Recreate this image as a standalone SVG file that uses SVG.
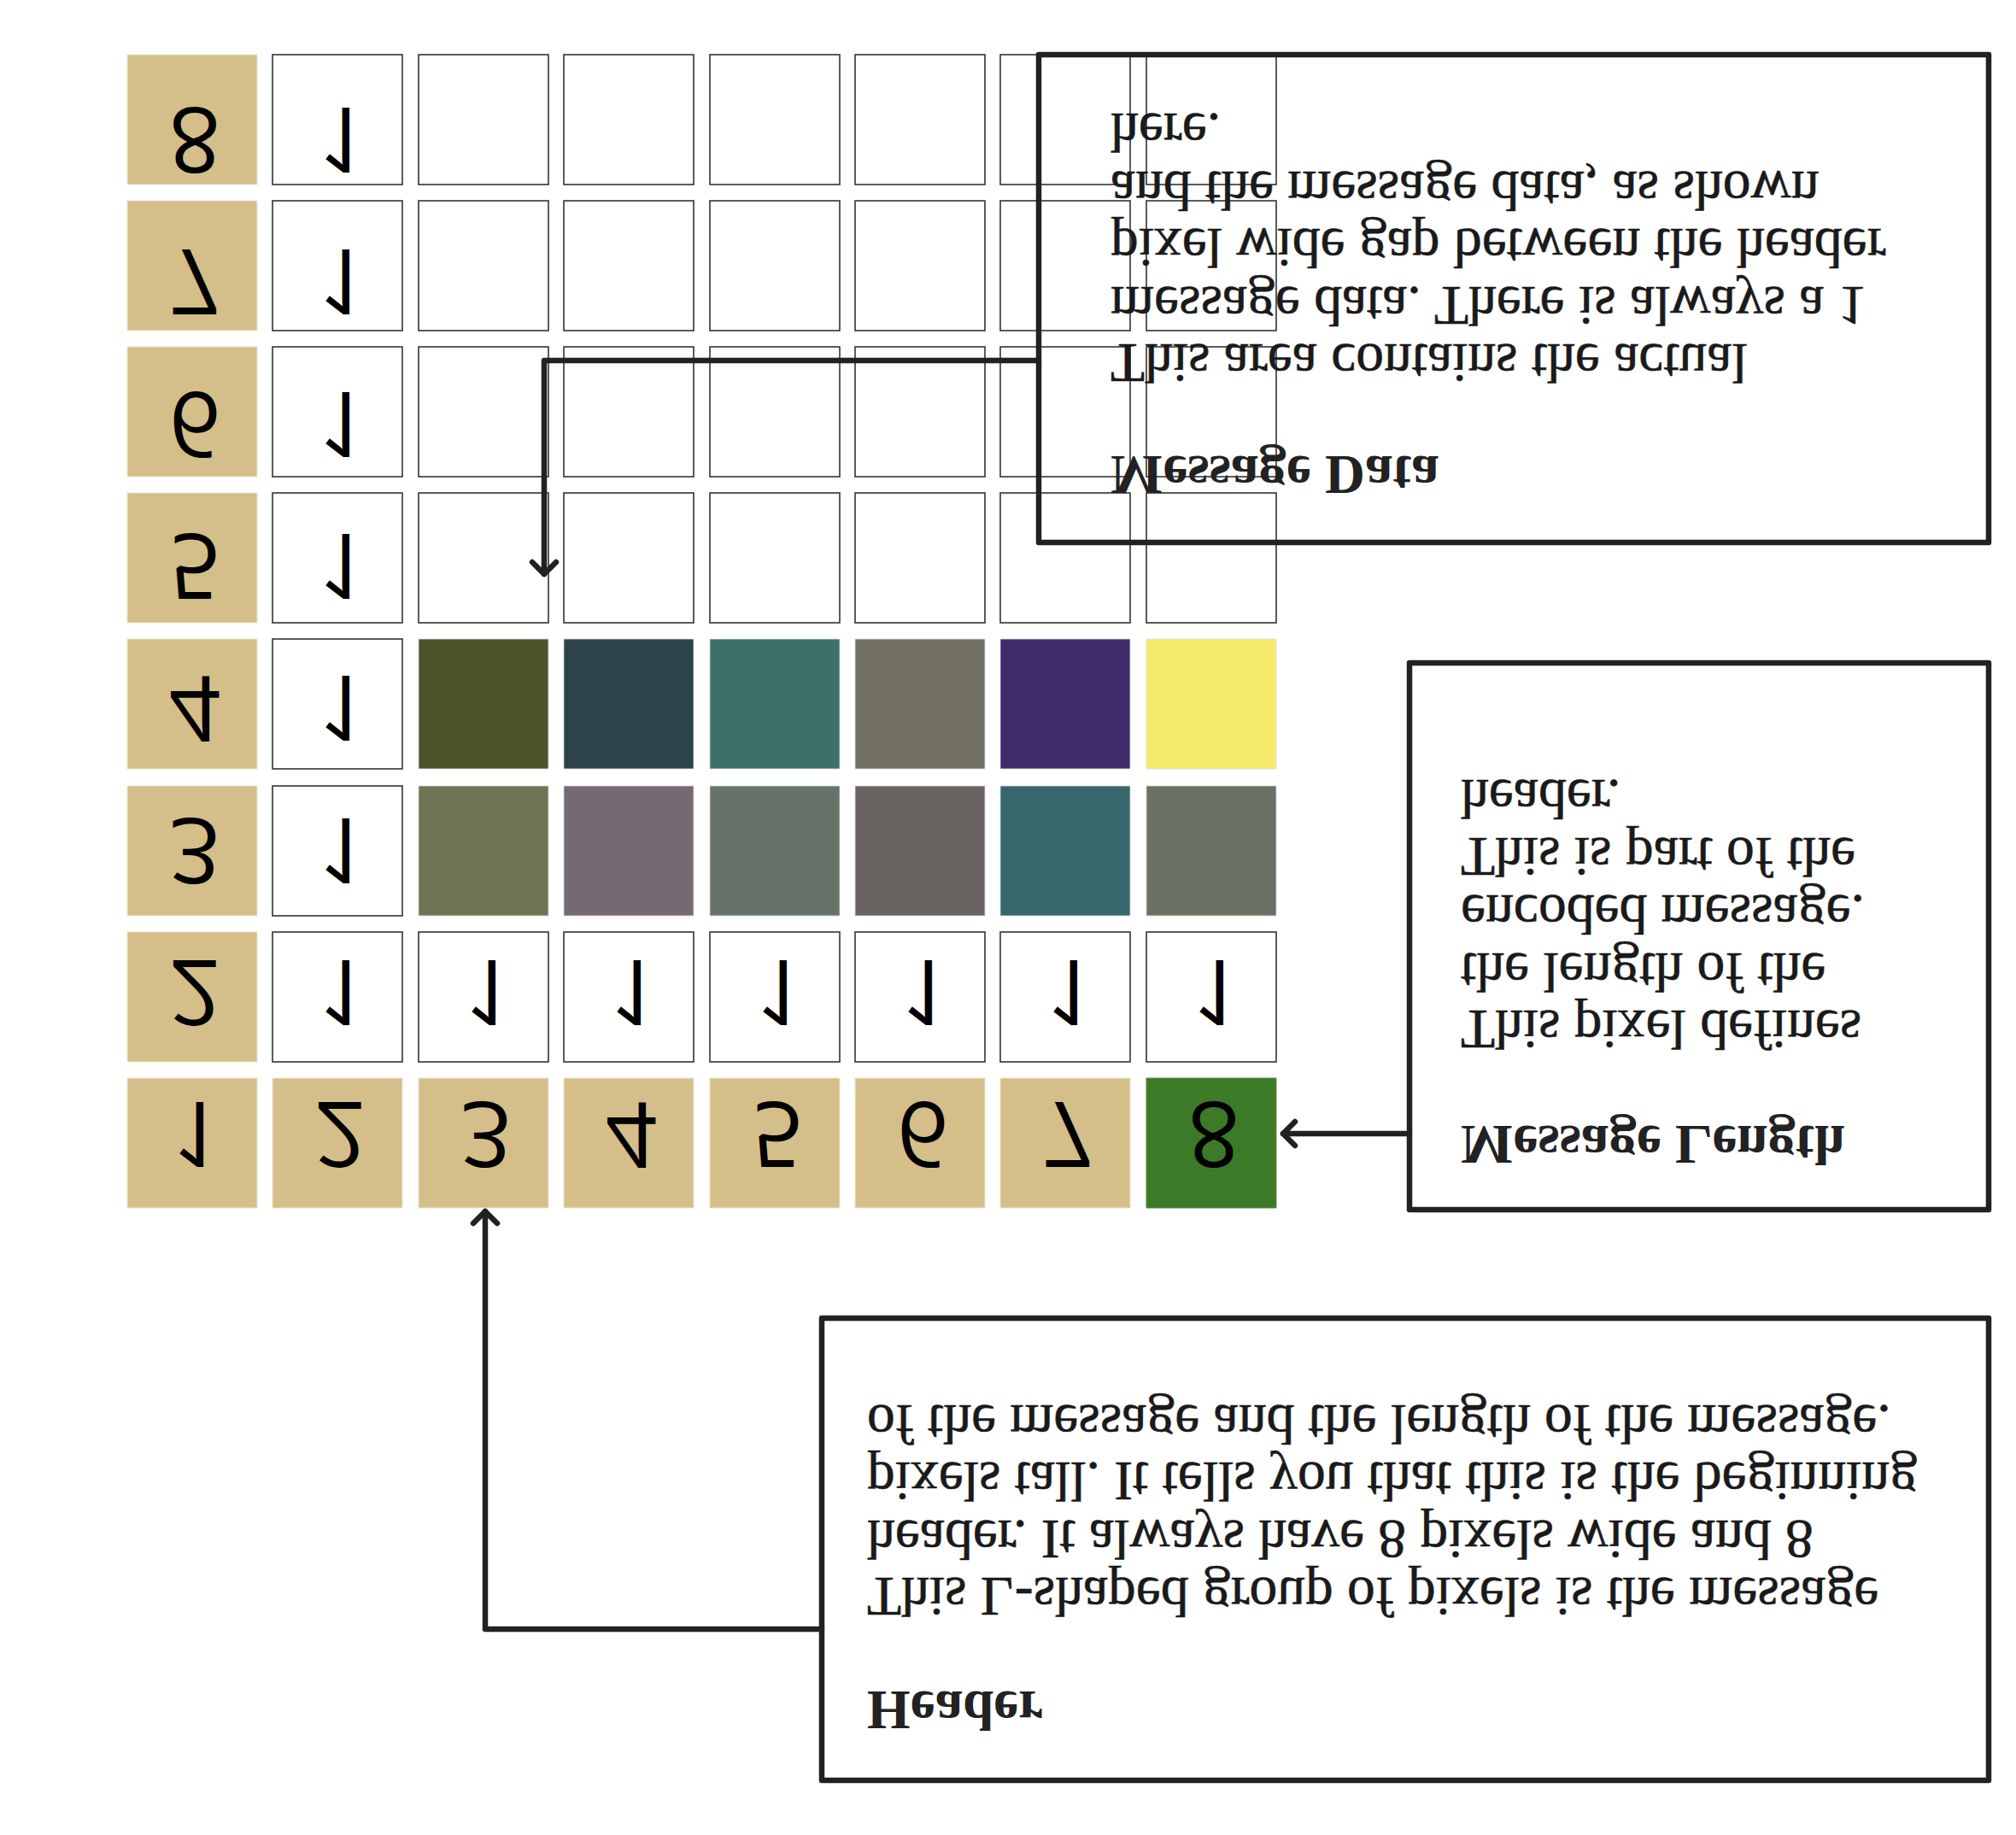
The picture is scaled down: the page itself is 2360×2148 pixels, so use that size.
<svg xmlns="http://www.w3.org/2000/svg" width="2360" height="2148" viewBox="0 0 2360 2148">
<defs>
<style>
.tan{fill:#D4BE8A;stroke:#EFE5CF;stroke-width:1}
.wh{fill:#fff;stroke:#333;stroke-width:1.6}
.px{stroke:#ddd;stroke-width:0.8}
.num{font-family:"Open Sans","Liberation Sans",sans-serif;font-size:106px;fill:#000;text-anchor:middle}
.box{fill:none;stroke:#222;stroke-width:6.5;stroke-linejoin:round}
.hd{font-family:"Liberation Serif","Times New Roman",serif;font-size:65px;font-weight:bold;fill:#222}
.bd{font-family:"Liberation Serif","Times New Roman",serif;font-size:65.5px;fill:#1a1a1a;stroke:#1a1a1a;stroke-width:0.6}
.conn{fill:none;stroke:#222;stroke-width:6.5;stroke-linecap:round;stroke-linejoin:round}
</style>
<marker id="arr" markerUnits="userSpaceOnUse" viewBox="-20 -20 25 40" refX="0" refY="0" markerWidth="25" markerHeight="40" orient="auto" overflow="visible">
<path d="M -14 -14 L 0 0 L -14 14" fill="none" stroke="#222" stroke-width="6.5" stroke-linecap="round" stroke-linejoin="round"/>
</marker>
</defs>
<rect width="2360" height="2148" fill="#fff"/>
<g transform="matrix(1 0 0 -1 0 2148)">
<g id="grid">
<g id="row1">
<rect class="tan" x="149" y="734" width="152" height="152"/><text class="num" x="231" y="858">1</text>
<rect class="tan" x="319" y="734" width="152" height="152"/><text class="num" x="398" y="858">2</text>
<rect class="tan" x="490" y="734" width="152" height="152"/><text class="num" x="569" y="858">3</text>
<rect class="tan" x="660" y="734" width="152" height="152"/><text class="num" x="739" y="858">4</text>
<rect class="tan" x="831" y="734" width="152" height="152"/><text class="num" x="910" y="858">5</text>
<rect class="tan" x="1001" y="734" width="152" height="152"/><text class="num" x="1080" y="858">6</text>
<rect class="tan" x="1171" y="734" width="152" height="152"/><text class="num" x="1250" y="858">7</text>
<rect x="1342" y="734" width="152" height="152" fill="#3D7A28" stroke="#5a8f48" stroke-width="1"/><text class="num" x="1421" y="858">8</text>
</g>
<g id="row2">
<rect class="tan" x="149" y="905" width="152" height="152"/><text class="num" x="228" y="1024">2</text>
<rect class="wh" x="319" y="905" width="152" height="152"/><text class="num" x="402" y="1024">1</text>
<rect class="wh" x="490" y="905" width="152" height="152"/><text class="num" x="573" y="1024">1</text>
<rect class="wh" x="660" y="905" width="152" height="152"/><text class="num" x="743" y="1024">1</text>
<rect class="wh" x="831" y="905" width="152" height="152"/><text class="num" x="914" y="1024">1</text>
<rect class="wh" x="1001" y="905" width="152" height="152"/><text class="num" x="1084" y="1024">1</text>
<rect class="wh" x="1171" y="905" width="152" height="152"/><text class="num" x="1254" y="1024">1</text>
<rect class="wh" x="1342" y="905" width="152" height="152"/><text class="num" x="1425" y="1024">1</text>
</g>
<g id="row3">
<rect class="tan" x="149" y="1076" width="152" height="152"/><text class="num" x="228" y="1190">3</text>
<rect class="wh" x="319" y="1076" width="152" height="152"/><text class="num" x="402" y="1190">1</text>
<rect class="px" x="490" y="1076" width="152" height="152" fill="#6F7552"/>
<rect class="px" x="660" y="1076" width="152" height="152" fill="#756A73"/>
<rect class="px" x="831" y="1076" width="152" height="152" fill="#667368"/>
<rect class="px" x="1001" y="1076" width="152" height="152" fill="#686360"/>
<rect class="px" x="1171" y="1076" width="152" height="152" fill="#37676C"/>
<rect class="px" x="1342" y="1076" width="152" height="152" fill="#687163"/>
</g>
<g id="row4">
<rect class="tan" x="149" y="1248" width="152" height="152"/><text class="num" x="228" y="1357">4</text>
<rect class="wh" x="319" y="1248" width="152" height="152"/><text class="num" x="402" y="1357">1</text>
<rect class="px" x="490" y="1248" width="152" height="152" fill="#4E522B"/>
<rect class="px" x="660" y="1248" width="152" height="152" fill="#2C434C"/>
<rect class="px" x="831" y="1248" width="152" height="152" fill="#3D7069"/>
<rect class="px" x="1001" y="1248" width="152" height="152" fill="#717062"/>
<rect class="px" x="1171" y="1248" width="152" height="152" fill="#3F2B69"/>
<rect class="px" x="1342" y="1248" width="152" height="152" fill="#F5EA6A"/>
</g>
<g id="row5">
<rect class="tan" x="149" y="1419" width="152" height="152"/><text class="num" x="228" y="1523">5</text>
<rect class="wh" x="319" y="1419" width="152" height="152"/><text class="num" x="402" y="1523">1</text>
<rect class="wh" x="490" y="1419" width="152" height="152"/>
<rect class="wh" x="660" y="1419" width="152" height="152"/>
<rect class="wh" x="831" y="1419" width="152" height="152"/>
<rect class="wh" x="1001" y="1419" width="152" height="152"/>
<rect class="wh" x="1171" y="1419" width="152" height="152"/>
<rect class="wh" x="1342" y="1419" width="152" height="152"/>
</g>
<g id="row6">
<rect class="tan" x="149" y="1590" width="152" height="152"/><text class="num" x="228" y="1689">6</text>
<rect class="wh" x="319" y="1590" width="152" height="152"/><text class="num" x="402" y="1689">1</text>
<rect class="wh" x="490" y="1590" width="152" height="152"/>
<rect class="wh" x="660" y="1590" width="152" height="152"/>
<rect class="wh" x="831" y="1590" width="152" height="152"/>
<rect class="wh" x="1001" y="1590" width="152" height="152"/>
<rect class="wh" x="1171" y="1590" width="152" height="152"/>
<rect class="wh" x="1342" y="1590" width="152" height="152"/>
</g>
<g id="row7">
<rect class="tan" x="149" y="1761" width="152" height="152"/><text class="num" x="228" y="1856">7</text>
<rect class="wh" x="319" y="1761" width="152" height="152"/><text class="num" x="402" y="1856">1</text>
<rect class="wh" x="490" y="1761" width="152" height="152"/>
<rect class="wh" x="660" y="1761" width="152" height="152"/>
<rect class="wh" x="831" y="1761" width="152" height="152"/>
<rect class="wh" x="1001" y="1761" width="152" height="152"/>
<rect class="wh" x="1171" y="1761" width="152" height="152"/>
<rect class="wh" x="1342" y="1761" width="152" height="152"/>
</g>
<g id="row8">
<rect class="tan" x="149" y="1932" width="152" height="152"/><text class="num" x="228" y="2022">8</text>
<rect class="wh" x="319" y="1932" width="152" height="152"/><text class="num" x="402" y="2022">1</text>
<rect class="wh" x="490" y="1932" width="152" height="152"/>
<rect class="wh" x="660" y="1932" width="152" height="152"/>
<rect class="wh" x="831" y="1932" width="152" height="152"/>
<rect class="wh" x="1001" y="1932" width="152" height="152"/>
<rect class="wh" x="1171" y="1932" width="152" height="152"/>
<rect class="wh" x="1342" y="1932" width="152" height="152"/>
</g>
</g>
<g id="message-data">
<rect class="box" x="1216" y="1513" width="1112" height="571"/>
<text class="hd" x="1300" y="1614">Message Data</text>
<text class="bd" x="1300" y="1745">This area contains the actual</text>
<text class="bd" x="1300" y="1812.5">message data. There is always a 1</text>
<text class="bd" x="1300" y="1880">pixel wide gap between the header</text>
<text class="bd" x="1300" y="1947.5">and the message data, as shown</text>
<text class="bd" x="1300" y="2015">here.</text>
</g>
<g id="message-length">
<rect class="box" x="1650" y="732" width="678" height="640"/>
<text class="hd" x="1710" y="830">Message Length</text>
<text class="bd" x="1710" y="965">This pixel defines</text>
<text class="bd" x="1710" y="1032.5">the length of the</text>
<text class="bd" x="1710" y="1100">encoded message.</text>
<text class="bd" x="1710" y="1167.5">This is part of the</text>
<text class="bd" x="1710" y="1235">header.</text>
</g>
<g id="header">
<rect class="box" x="962" y="64" width="1366" height="541"/>
<text class="hd" x="1015" y="168">Header</text>
<text class="bd" x="1015" y="301">This L-shaped group of pixels is the message</text>
<text class="bd" x="1015" y="368.5">header. It always have 8 pixels wide and 8</text>
<text class="bd" x="1015" y="436">pixels tall. It tells you that this is the beginning</text>
<text class="bd" x="1015" y="503.5">of the message and the length of the message.</text>
</g>
<g id="connectors">
<path class="conn" d="M 1216 1726 L 637 1726 L 637 1476" marker-end="url(#arr)"/>
<path class="conn" d="M 1650 821 L 1502 821" marker-end="url(#arr)"/>
<path class="conn" d="M 962 241 L 568 241 L 568 730" marker-end="url(#arr)"/>
</g>
</g>
</svg>
